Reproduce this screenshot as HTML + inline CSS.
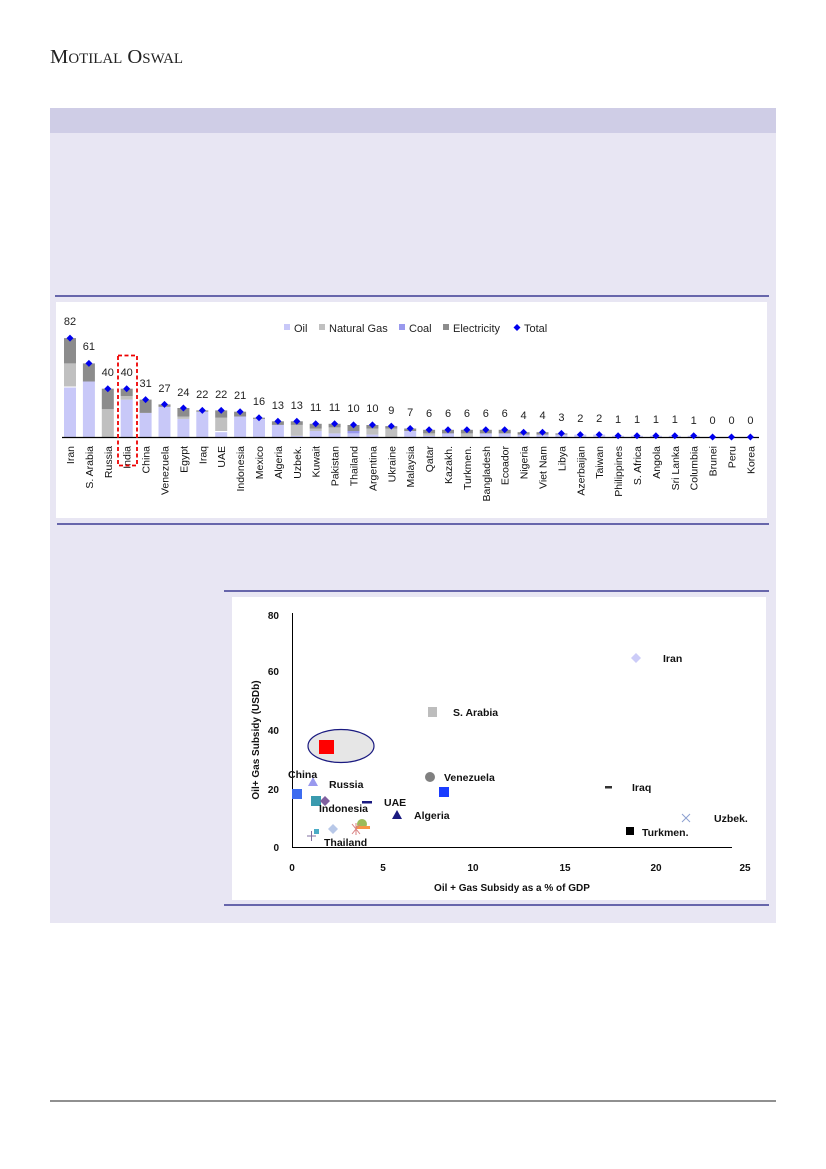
<!DOCTYPE html>
<html><head><meta charset="utf-8"><style>
html,body{margin:0;padding:0;background:#fff}
svg{display:block}
text{font-family:"Liberation Sans","DejaVu Sans",sans-serif}
</style></head><body>
<svg width="826" height="1169" viewBox="0 0 826 1169" xmlns="http://www.w3.org/2000/svg">
<text x="50" y="63" font-size="20" fill="#222" style="font-family:'Liberation Serif',serif" textLength="133" lengthAdjust="spacingAndGlyphs">M<tspan font-size="14.5">OTILAL</tspan> O<tspan font-size="14.5">SWAL</tspan></text>
<rect x="50" y="108" width="726" height="815" fill="#e8e6f3"/>
<rect x="50" y="108" width="726" height="25" fill="#cfcde6"/>
<line x1="55" y1="296" x2="769" y2="296" stroke="#1a1a80" stroke-width="1.3"/>
<rect x="56" y="302" width="711" height="216" fill="#fff"/>
<line x1="57" y1="524" x2="769" y2="524" stroke="#1a1a80" stroke-width="1.3"/>
<line x1="224" y1="591" x2="769" y2="591" stroke="#1a1a80" stroke-width="1.3"/>
<rect x="232" y="597" width="534" height="303" fill="#fff"/>
<line x1="224" y1="905" x2="769" y2="905" stroke="#1a1a80" stroke-width="1.3"/>
<line x1="50" y1="1101" x2="776" y2="1101" stroke="#222" stroke-width="1"/>

<g font-size="11" fill="#222">
<rect x="284" y="324" width="6" height="6" fill="#c8c8f8"/><text x="294" y="332">Oil</text>
<rect x="319" y="324" width="6" height="6" fill="#c0c0c0"/><text x="329" y="332">Natural Gas</text>
<rect x="399" y="324" width="6" height="6" fill="#9999ee"/><text x="409" y="332">Coal</text>
<rect x="443" y="324" width="6" height="6" fill="#8c8c8c"/><text x="453" y="332">Electricity</text>
<path d="M517 324 L520.5 327.5 L517 331 L513.5 327.5Z" fill="#0000ee"/><text x="524" y="332">Total</text>
</g>

<g>
<rect x="64" y="387.5" width="12" height="49.5" fill="#c8c8f8"/><rect x="64" y="363.4" width="12" height="23.1" fill="#c0c0c0"/><rect x="64" y="338.1" width="12" height="25.3" fill="#8c8c8c"/>
<rect x="82.9" y="381.5" width="12" height="55.5" fill="#c8c8f8"/><rect x="82.9" y="363.4" width="12" height="18.1" fill="#8c8c8c"/>
<rect x="101.8" y="409.2" width="12" height="27.8" fill="#c0c0c0"/><rect x="101.8" y="388.7" width="12" height="20.5" fill="#8c8c8c"/>
<rect x="120.7" y="399.6" width="12" height="37.4" fill="#c8c8f8"/><rect x="120.7" y="396" width="12" height="3.6" fill="#c0c0c0"/><rect x="120.7" y="388.7" width="12" height="7.3" fill="#8c8c8c"/>
<rect x="139.6" y="412.9" width="12" height="24.1" fill="#c8c8f8"/><rect x="139.6" y="399.6" width="12" height="13.3" fill="#8c8c8c"/>
<rect x="158.5" y="406.8" width="12" height="30.2" fill="#c8c8f8"/><rect x="158.5" y="404.4" width="12" height="2.4" fill="#8c8c8c"/>
<rect x="177.4" y="418.9" width="12" height="18.1" fill="#c8c8f8"/><rect x="177.4" y="416.5" width="12" height="2.4" fill="#c0c0c0"/><rect x="177.4" y="408" width="12" height="8.5" fill="#8c8c8c"/>
<rect x="196.3" y="411.7" width="12" height="25.3" fill="#c8c8f8"/><rect x="196.3" y="410.4" width="12" height="1.3" fill="#8c8c8c"/>
<rect x="215.2" y="432.2" width="12" height="4.8" fill="#c8c8f8"/><rect x="215.2" y="417.7" width="12" height="13.3" fill="#c0c0c0"/><rect x="215.2" y="410.4" width="12" height="7.3" fill="#8c8c8c"/>
<rect x="234.1" y="416.5" width="12" height="20.5" fill="#c8c8f8"/><rect x="234.1" y="411.7" width="12" height="4.8" fill="#8c8c8c"/>
<rect x="253" y="418.9" width="12" height="18.1" fill="#c8c8f8"/><rect x="253" y="417.7" width="12" height="1.2" fill="#8c8c8c"/>
<rect x="271.9" y="424.9" width="12" height="12.1" fill="#c8c8f8"/><rect x="271.9" y="421.3" width="12" height="3.6" fill="#8c8c8c"/>
<rect x="290.8" y="435.8" width="12" height="1.2" fill="#c8c8f8"/><rect x="290.8" y="424.9" width="12" height="10.9" fill="#c0c0c0"/><rect x="290.8" y="421.3" width="12" height="3.6" fill="#8c8c8c"/>
<rect x="309.7" y="431" width="12" height="6" fill="#c8c8f8"/><rect x="309.7" y="428.6" width="12" height="2.4" fill="#c0c0c0"/><rect x="309.7" y="423.8" width="12" height="4.8" fill="#8c8c8c"/>
<rect x="328.6" y="433.4" width="12" height="3.6" fill="#c8c8f8"/><rect x="328.6" y="427.4" width="12" height="6" fill="#c0c0c0"/><rect x="328.6" y="423.8" width="12" height="3.6" fill="#8c8c8c"/>
<rect x="347.5" y="433.4" width="12" height="3.6" fill="#c8c8f8"/><rect x="347.5" y="431" width="12" height="2.4" fill="#9999ee"/><rect x="347.5" y="425" width="12" height="6" fill="#8c8c8c"/>
<rect x="366.4" y="434.6" width="12" height="2.4" fill="#c8c8f8"/><rect x="366.4" y="428.6" width="12" height="6" fill="#c0c0c0"/><rect x="366.4" y="425" width="12" height="3.6" fill="#8c8c8c"/>
<rect x="385.3" y="428.5" width="12" height="8.5" fill="#c0c0c0"/><rect x="385.3" y="426.1" width="12" height="2.4" fill="#8c8c8c"/>
<rect x="404.2" y="431" width="12" height="6" fill="#c8c8f8"/><rect x="404.2" y="428.5" width="12" height="2.5" fill="#8c8c8c"/>
<rect x="423.1" y="435.8" width="12" height="1.2" fill="#c8c8f8"/><rect x="423.1" y="433.4" width="12" height="2.4" fill="#c0c0c0"/><rect x="423.1" y="429.8" width="12" height="3.6" fill="#8c8c8c"/>
<rect x="442" y="433.4" width="12" height="3.6" fill="#c8c8f8"/><rect x="442" y="429.8" width="12" height="3.6" fill="#8c8c8c"/>
<rect x="460.9" y="433.4" width="12" height="3.6" fill="#c0c0c0"/><rect x="460.9" y="429.8" width="12" height="3.6" fill="#8c8c8c"/>
<rect x="479.8" y="433.4" width="12" height="3.6" fill="#c8c8f8"/><rect x="479.8" y="429.8" width="12" height="3.6" fill="#8c8c8c"/>
<rect x="498.7" y="433.4" width="12" height="3.6" fill="#c8c8f8"/><rect x="498.7" y="429.8" width="12" height="3.6" fill="#8c8c8c"/>
<rect x="517.6" y="434.6" width="12" height="2.4" fill="#c8c8f8"/><rect x="517.6" y="432.2" width="12" height="2.4" fill="#8c8c8c"/>
<rect x="536.5" y="434.6" width="12" height="2.4" fill="#c8c8f8"/><rect x="536.5" y="432.2" width="12" height="2.4" fill="#8c8c8c"/>
<rect x="555.4" y="434.6" width="12" height="2.4" fill="#c8c8f8"/><rect x="555.4" y="433.4" width="12" height="1.2" fill="#8c8c8c"/>
<rect x="574.3" y="434.6" width="12" height="2.4" fill="#c8c8f8"/>
<rect x="593.2" y="434.6" width="12" height="2.4" fill="#c8c8f8"/>
<rect x="612.1" y="435.8" width="12" height="1.2" fill="#c8c8f8"/><rect x="631" y="435.8" width="12" height="1.2" fill="#c8c8f8"/><rect x="649.9" y="435.8" width="12" height="1.2" fill="#c8c8f8"/><rect x="668.8" y="435.8" width="12" height="1.2" fill="#c8c8f8"/><rect x="687.7" y="435.8" width="12" height="1.2" fill="#c8c8f8"/>
</g>
<line x1="62" y1="437.5" x2="759" y2="437.5" stroke="#000" stroke-width="1.2"/>

<g fill="#0000ee">
<path d="M70 334.6l3.5 3.5-3.5 3.5-3.5-3.5z"/><path d="M88.9 359.9l3.5 3.5-3.5 3.5-3.5-3.5z"/><path d="M107.8 385.2l3.5 3.5-3.5 3.5-3.5-3.5z"/><path d="M126.7 385.2l3.5 3.5-3.5 3.5-3.5-3.5z"/><path d="M145.6 396.1l3.5 3.5-3.5 3.5-3.5-3.5z"/><path d="M164.5 400.9l3.5 3.5-3.5 3.5-3.5-3.5z"/><path d="M183.4 404.5l3.5 3.5-3.5 3.5-3.5-3.5z"/><path d="M202.3 406.9l3.5 3.5-3.5 3.5-3.5-3.5z"/><path d="M221.2 406.9l3.5 3.5-3.5 3.5-3.5-3.5z"/><path d="M240.1 408.2l3.5 3.5-3.5 3.5-3.5-3.5z"/><path d="M259 414.2l3.5 3.5-3.5 3.5-3.5-3.5z"/><path d="M277.9 417.8l3.5 3.5-3.5 3.5-3.5-3.5z"/><path d="M296.8 417.8l3.5 3.5-3.5 3.5-3.5-3.5z"/><path d="M315.7 420.3l3.5 3.5-3.5 3.5-3.5-3.5z"/><path d="M334.6 420.3l3.5 3.5-3.5 3.5-3.5-3.5z"/><path d="M353.5 421.4l3.5 3.5-3.5 3.5-3.5-3.5z"/><path d="M372.4 421.4l3.5 3.5-3.5 3.5-3.5-3.5z"/><path d="M391.3 422.6l3.5 3.5-3.5 3.5-3.5-3.5z"/><path d="M410.2 425l3.5 3.5-3.5 3.5-3.5-3.5z"/><path d="M429.1 426.3l3.5 3.5-3.5 3.5-3.5-3.5z"/><path d="M448 426.3l3.5 3.5-3.5 3.5-3.5-3.5z"/><path d="M466.9 426.3l3.5 3.5-3.5 3.5-3.5-3.5z"/><path d="M485.8 426.3l3.5 3.5-3.5 3.5-3.5-3.5z"/><path d="M504.7 426.3l3.5 3.5-3.5 3.5-3.5-3.5z"/><path d="M523.6 428.7l3.5 3.5-3.5 3.5-3.5-3.5z"/><path d="M542.5 428.7l3.5 3.5-3.5 3.5-3.5-3.5z"/><path d="M561.4 429.9l3.5 3.5-3.5 3.5-3.5-3.5z"/><path d="M580.3 431.1l3.5 3.5-3.5 3.5-3.5-3.5z"/><path d="M599.2 431.1l3.5 3.5-3.5 3.5-3.5-3.5z"/><path d="M618.1 432.3l3.5 3.5-3.5 3.5-3.5-3.5z"/><path d="M637 432.3l3.5 3.5-3.5 3.5-3.5-3.5z"/><path d="M655.9 432.3l3.5 3.5-3.5 3.5-3.5-3.5z"/><path d="M674.8 432.3l3.5 3.5-3.5 3.5-3.5-3.5z"/><path d="M693.7 432.3l3.5 3.5-3.5 3.5-3.5-3.5z"/><path d="M712.6 433.5l3.5 3.5-3.5 3.5-3.5-3.5z"/><path d="M731.5 433.5l3.5 3.5-3.5 3.5-3.5-3.5z"/><path d="M750.4 433.5l3.5 3.5-3.5 3.5-3.5-3.5z"/>
</g>
<g font-size="11" fill="#222" text-anchor="middle">
<text x="70" y="325">82</text><text x="88.9" y="350">61</text><text x="107.8" y="376">40</text><text x="126.7" y="376">40</text><text x="145.6" y="387">31</text><text x="164.5" y="392">27</text><text x="183.4" y="396">24</text><text x="202.3" y="398">22</text><text x="221.2" y="398">22</text><text x="240.1" y="399">21</text><text x="259" y="405">16</text><text x="277.9" y="409">13</text><text x="296.8" y="409">13</text><text x="315.7" y="411">11</text><text x="334.6" y="411">11</text><text x="353.5" y="412">10</text><text x="372.4" y="412">10</text><text x="391.3" y="414">9</text><text x="410.2" y="416">7</text><text x="429.1" y="417">6</text><text x="448" y="417">6</text><text x="466.9" y="417">6</text><text x="485.8" y="417">6</text><text x="504.7" y="417">6</text><text x="523.6" y="419">4</text><text x="542.5" y="419">4</text><text x="561.4" y="421">3</text><text x="580.3" y="422">2</text><text x="599.2" y="422">2</text><text x="618.1" y="423">1</text><text x="637" y="423">1</text><text x="655.9" y="423">1</text><text x="674.8" y="423">1</text><text x="693.7" y="424">1</text><text x="712.6" y="424">0</text><text x="731.5" y="424">0</text><text x="750.4" y="424">0</text>
</g>
<g font-size="10.5" fill="#111" text-anchor="end">
<text transform="translate(74,446) rotate(-90)">Iran</text><text transform="translate(92.9,446) rotate(-90)">S. Arabia</text><text transform="translate(111.8,446) rotate(-90)">Russia</text><text transform="translate(130.7,446) rotate(-90)">India</text><text transform="translate(149.6,446) rotate(-90)">China</text><text transform="translate(168.5,446) rotate(-90)">Venezuela</text><text transform="translate(187.4,446) rotate(-90)">Egypt</text><text transform="translate(206.3,446) rotate(-90)">Iraq</text><text transform="translate(225.2,446) rotate(-90)">UAE</text><text transform="translate(244.1,446) rotate(-90)">Indonesia</text><text transform="translate(263,446) rotate(-90)">Mexico</text><text transform="translate(281.9,446) rotate(-90)">Algeria</text><text transform="translate(300.8,446) rotate(-90)">Uzbek.</text><text transform="translate(319.7,446) rotate(-90)">Kuwait</text><text transform="translate(338.6,446) rotate(-90)">Pakistan</text><text transform="translate(357.5,446) rotate(-90)">Thailand</text><text transform="translate(376.4,446) rotate(-90)">Argentina</text><text transform="translate(395.3,446) rotate(-90)">Ukraine</text><text transform="translate(414.2,446) rotate(-90)">Malaysia</text><text transform="translate(433.1,446) rotate(-90)">Qatar</text><text transform="translate(452,446) rotate(-90)">Kazakh.</text><text transform="translate(470.9,446) rotate(-90)">Turkmen.</text><text transform="translate(489.8,446) rotate(-90)">Bangladesh</text><text transform="translate(508.7,446) rotate(-90)">Ecoador</text><text transform="translate(527.6,446) rotate(-90)">Nigeria</text><text transform="translate(546.5,446) rotate(-90)">Viet Nam</text><text transform="translate(565.4,446) rotate(-90)">Libya</text><text transform="translate(584.3,446) rotate(-90)">Azerbaijan</text><text transform="translate(603.2,446) rotate(-90)">Taiwan</text><text transform="translate(622.1,446) rotate(-90)">Philippines</text><text transform="translate(641,446) rotate(-90)">S. Africa</text><text transform="translate(659.9,446) rotate(-90)">Angola</text><text transform="translate(678.8,446) rotate(-90)">Sri Lanka</text><text transform="translate(697.7,446) rotate(-90)">Columbia</text><text transform="translate(716.6,446) rotate(-90)">Brunei</text><text transform="translate(735.5,446) rotate(-90)">Peru</text><text transform="translate(754.4,446) rotate(-90)">Korea</text>
</g>
<rect x="118" y="355.5" width="19" height="110" fill="none" stroke="#e00" stroke-width="1.8" stroke-dasharray="4,2.5"/>

<line x1="292.5" y1="613" x2="292.5" y2="847.5" stroke="#000" stroke-width="1"/>
<line x1="292" y1="847.5" x2="732" y2="847.5" stroke="#000" stroke-width="1"/>
<g font-size="10" font-weight="bold" fill="#111">
<text x="279" y="619" text-anchor="end">80</text><text x="279" y="675" text-anchor="end">60</text><text x="279" y="734" text-anchor="end">40</text><text x="279" y="793" text-anchor="end">20</text><text x="279" y="851" text-anchor="end">0</text>
<text x="292" y="871" text-anchor="middle">0</text><text x="383" y="871" text-anchor="middle">5</text><text x="473" y="871" text-anchor="middle">10</text><text x="565" y="871" text-anchor="middle">15</text><text x="656" y="871" text-anchor="middle">20</text><text x="745" y="871" text-anchor="middle">25</text>
<text x="512" y="891" text-anchor="middle">Oil + Gas Subsidy as a % of GDP</text>
<text transform="translate(259,740) rotate(-90)" text-anchor="middle">Oil+ Gas Subsidy (USDb)</text>
</g>
<ellipse cx="341" cy="746" rx="33" ry="16.5" fill="#e6e6e6" stroke="#1a1a80" stroke-width="1.2"/>
<rect x="319" y="740" width="15" height="14" fill="#ff0000"/>
<path d="M636 653l5 5-5 5-5-5z" fill="#ccccf8"/>
<rect x="428" y="707" width="9" height="10" fill="#bdbdbd"/>
<rect x="292" y="789" width="10" height="10" fill="#3d6cf0"/>
<path d="M313 777l5 9h-10z" fill="#9999ee"/>
<rect x="311" y="796" width="10" height="10" fill="#3a9aae"/>
<path d="M325 796l5 5-5 5-5-5z" fill="#7f5f9f"/>
<rect x="362" y="801" width="10" height="2.5" fill="#1a1a80"/>
<circle cx="430" cy="777" r="5" fill="#808080"/>
<rect x="439" y="787" width="10" height="10" fill="#1a3cff"/>
<path d="M397 810l5 9h-10z" fill="#1a1a80"/>
<rect x="605" y="786" width="7" height="2.5" fill="#333"/>
<path d="M682 814l8 8M690 814l-8 8" stroke="#8ca0d0" stroke-width="1"/>
<rect x="626" y="827" width="8" height="8" fill="#000"/>
<circle cx="362" cy="824" r="5" fill="#9bbb59"/>
<rect x="356" y="826" width="14" height="3" fill="#f79646"/>
<path d="M352 824l8 10M360 824l-8 10M356 823v12" stroke="#d87f7f" stroke-width="1"/>
<path d="M333 824l5 5-5 5-5-5z" fill="#b8c8e8"/>
<rect x="314" y="829" width="5" height="5" fill="#4bacc6"/>
<path d="M307 836h9M311.5 831v10" stroke="#8070a0" stroke-width="1"/>
<g font-size="10.5" font-weight="bold" fill="#111">
<text x="663" y="662">Iran</text><text x="453" y="716">S. Arabia</text><text x="288" y="778">China</text><text x="329" y="788">Russia</text><text x="319" y="812">Indonesia</text><text x="384" y="806">UAE</text><text x="444" y="781">Venezuela</text><text x="414" y="819">Algeria</text><text x="632" y="791">Iraq</text><text x="714" y="822">Uzbek.</text><text x="642" y="836">Turkmen.</text><text x="324" y="846">Thailand</text>
</g>
</svg>
</body></html>
